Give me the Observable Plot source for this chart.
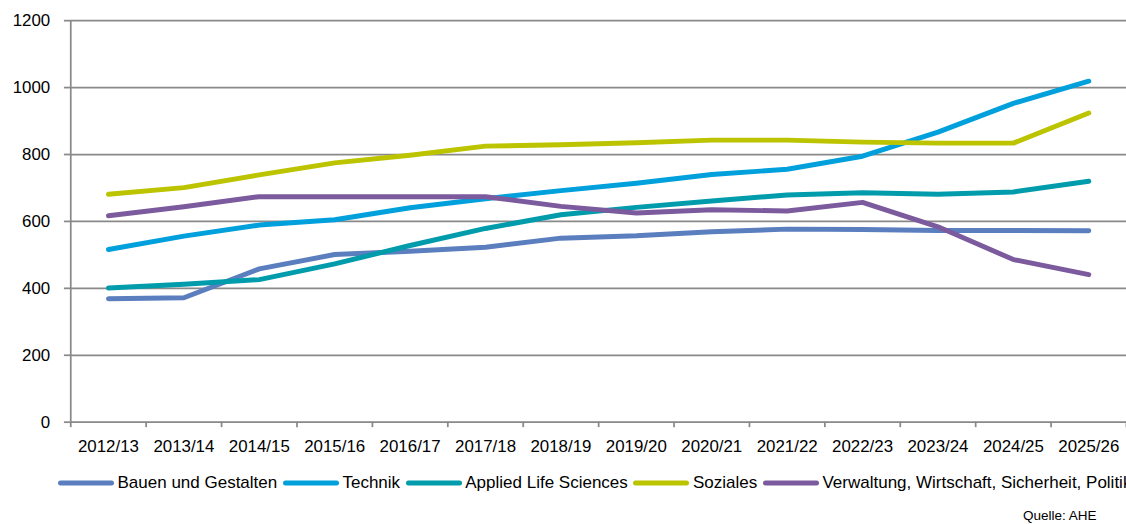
<!DOCTYPE html>
<html>
<head>
<meta charset="utf-8">
<script src="https://cdn.jsdelivr.net/npm/d3@7"></script>
<script src="https://cdn.jsdelivr.net/npm/@observablehq/plot@0.6"></script>
<style>
  html, body { margin: 0; padding: 0; background: #fff; overflow: hidden; }
  #wrap { position: relative; width: 1126px; height: 524px; overflow: hidden; font-family: "Liberation Sans", Arial, sans-serif; color: #000; }
  #chart { position: absolute; left: 0; top: 0; }
  #legend { position: absolute; left: 58px; top: 470px; height: 26px; display: flex; align-items: center; white-space: nowrap; font-size: 17px; }
  .item { display: flex; align-items: center; margin-right: 5.7px; }
  .item svg { margin-right: 3.5px; }
  #source { position: absolute; left: 1023px; top: 508px; font-size: 13.5px; white-space: nowrap; }
</style>
</head>
<body>
<div id="wrap">
  <div id="chart"></div>
  <div id="legend"></div>
  <div id="source">Quelle: AHE</div>
</div>
<script>
const years = ["2012/13","2013/14","2014/15","2015/16","2016/17","2017/18","2018/19","2019/20","2020/21","2021/22","2022/23","2023/24","2024/25","2025/26"];
const seriesNames = ["Bauen und Gestalten","Technik","Applied Life Sciences","Soziales","Verwaltung, Wirtschaft, Sicherheit, Politik"];
const seriesColors = ["#5b7ebf","#00a0dc","#009cac","#bcc400","#7b5b9d"];
const bauen      = [369,372,458,501,511,523,550,557,569,577,576,573,573,572];
const technik    = [516,556,589,605,641,668,692,714,740,756,795,867,953,1019];
const applied    = [401,412,426,473,528,579,620,642,661,679,686,681,688,720];
const soziales   = [681,701,739,775,798,825,829,835,843,843,837,834,834,924];
const verwaltung = [617,644,674,674,674,674,645,625,635,631,657,584,486,441];
const yTicks = [0,200,400,600,800,1000,1200];

const allValues = [bauen, technik, applied, soziales, verwaltung];
const data = seriesNames.flatMap((name, i) => allValues[i].map((v, j) => ({series: name, x: j + 0.5, y: v})));

const grey = "#898989";
const chart = Plot.plot({
  width: 1133,
  height: 465,
  marginLeft: 70.7,
  marginRight: 0,
  marginTop: 20.3,
  marginBottom: 40.7,
  style: {fontFamily: "'Liberation Sans', Arial, sans-serif", fontSize: "17px", color: "#000", background: "transparent", overflow: "visible"},
  x: {type: "linear", domain: [0, years.length], axis: null},
  y: {domain: [0, 1200], axis: null},
  color: {domain: seriesNames, range: seriesColors},
  marks: [
    Plot.ruleY(yTicks, {stroke: grey, strokeWidth: 1.75}),
    Plot.ruleX([0], {stroke: grey, strokeWidth: 1.75}),
    Plot.axisY(yTicks, {tickSize: 6.4, tickPadding: 14.3, stroke: grey, strokeWidth: 1.75, tickFormat: d => String(d), label: null, fontSize: 17}),
    Plot.axisX(d3.range(years.length + 1), {tickSize: 5.5, tickFormat: () => "", stroke: grey, strokeWidth: 1.75, label: null}),
    Plot.axisX(years.map((_, i) => i + 0.5), {tickSize: 0, tickPadding: 18, tickFormat: d => years[Math.floor(d)], label: null, fontSize: 17}),
    Plot.line(data, {x: "x", y: "y", z: "series", stroke: "series", strokeWidth: 5, strokeLinecap: "round", strokeLinejoin: "round"})
  ]
});
document.getElementById("chart").appendChild(chart);

const legend = document.getElementById("legend");
seriesNames.forEach((name, i) => {
  const item = document.createElement("div");
  item.className = "item";
  item.innerHTML = `<svg width="56" height="8"><line x1="2.5" y1="4" x2="53.5" y2="4" stroke="${seriesColors[i]}" stroke-width="5" stroke-linecap="round"/></svg><span>${name}</span>`;
  legend.appendChild(item);
});
</script>
</body>
</html>
